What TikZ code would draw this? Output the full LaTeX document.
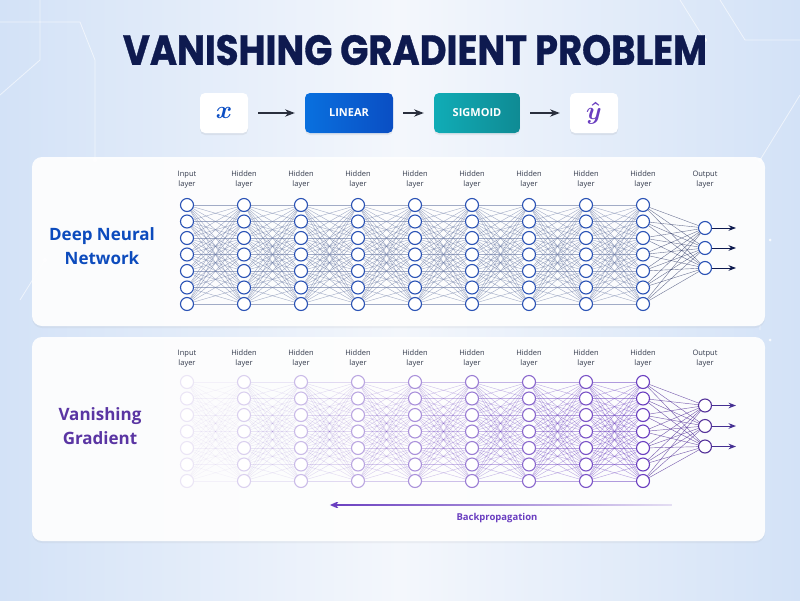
\documentclass[tikz,border=0pt]{standalone}
\usepackage{fontspec}
\setmainfont{Open Sans}
\newfontfamily\headfont{Poppins}[FakeStretch=0.88, BoldFeatures={FakeBold=0.8}]
\usepackage{amsmath,amssymb}
\usetikzlibrary{arrows.meta,shadows,fadings}

\definecolor{navy}{HTML}{0E1A4F}
\definecolor{bgblue}{HTML}{D3E2F7}
\definecolor{bgwhite}{HTML}{F4F7FC}
\definecolor{linblue}{HTML}{0B57D9}
\definecolor{sigteal}{HTML}{12A3AE}
\definecolor{nnblue}{HTML}{2A52B5}
\definecolor{edgeblue}{HTML}{6A7AA5}
\definecolor{vgpurple}{HTML}{6A3EC0}
\definecolor{labgray}{HTML}{333A4C}
\definecolor{arrowgray}{HTML}{2A2F3D}

\tikzfading[name=bpfade, left color=transparent!0, right color=transparent!85]

\begin{document}
\begin{tikzpicture}[x=1pt, y=-1pt, >=Stealth,
  panel/.style={fill=white, fill opacity=0.92, rounded corners=10pt,
    drop shadow={opacity=0.08, shadow xshift=0pt, shadow yshift=-2pt}},
  flowbox/.style={rounded corners=5pt, minimum height=40pt, inner sep=0pt,
    drop shadow={opacity=0.12, shadow xshift=0pt, shadow yshift=-2pt}},
  flowtext/.style={text=white, font=\bfseries\fontsize{11}{13}\selectfont},
  flowarrow/.style={->, arrowgray, line width=1.5pt, shorten <=10pt, shorten >=10pt},
  layerlab/.style={align=center, text=labgray, inner sep=0pt,
    font=\fontsize{7.5}{10}\selectfont},
  neuron/.style={circle, draw=nnblue, fill=white, line width=1.1pt,
    minimum size=13pt, inner sep=0pt},
  edge/.style={edgeblue, line width=0.4pt, opacity=0.62},
  sidetitle/.style={align=center, font=\bfseries\fontsize{17}{24}\selectfont}]

  % background
  \useasboundingbox (0,0) rectangle (800,600);
  \shade[left color=bgblue, right color=bgblue, middle color=bgwhite] (0,0) rectangle (800,600);
  \draw[white, opacity=0.6, line width=0.8pt] (0,22) -- (80,22) -- (95,60) -- (95,160)
    (0,95) -- (40,60) -- (40,0) (20,300) -- (45,260);
  \draw[white, opacity=0.6, line width=0.8pt] (800,40) -- (745,40) -- (720,0)
    (800,95) -- (760,160) -- (760,330) (680,0) -- (705,40);
  \fill[white, opacity=0.8] (95,160) circle (2) (45,260) circle (2) (760,160) circle (2)
    (705,40) circle (2) (770,240) circle (1.5) (770,340) circle (1.5);

  % title
  \node[text=navy, inner sep=0pt] (title) at (415,50)
    {\headfont\bfseries\fontsize{42}{46}\selectfont VANISHING GRADIENT PROBLEM};

  % flow row
  \node[flowbox, fill=white, minimum width=48pt] (in) at (224,113)
    {\color{linblue!85!navy}\fontsize{28}{30}\selectfont$\boldsymbol{x}$};
  \node[flowbox, left color=linblue!85!cyan, right color=linblue!90!black,
    minimum width=88pt, flowtext] (lin) at (349,113) {LINEAR};
  \node[flowbox, left color=sigteal!90!cyan, right color=sigteal!85!black,
    minimum width=86pt, flowtext] (sig) at (477,113) {SIGMOID};
  \node[flowbox, fill=white, minimum width=48pt] (out) at (594,113)
    {\color{vgpurple}\fontsize{28}{30}\selectfont$\boldsymbol{\hat{y}}$};
  \draw[flowarrow] (in) -- (lin);
  \draw[flowarrow] (lin) -- (sig);
  \draw[flowarrow] (sig) -- (out);

  % panels
  \fill[panel] (32,157) rectangle (765,326);
  \fill[panel] (32,337) rectangle (765,541);

  \node[sidetitle, text=linblue!80!navy] (dnn) at (102,246) {Deep Neural\\Network};
  \node[sidetitle, text=vgpurple!85!black] (vg) at (100,426) {Vanishing\\Gradient};

  % top network
  \foreach \l in {0,...,8} {
    \node[layerlab] (tl-\l) at (187+57*\l,180) {\ifnum\l=0 Input\else Hidden\fi\\layer};
    \foreach \k in {1,...,7}
      \node[neuron] (t-\l-\k) at (187+57*\l,188.5+16.5*\k) {};
  }
  \node[layerlab] (tl-o) at (705,180) {Output\\layer};
  \foreach \k in {1,2,3} {
    \node[neuron] (t-o-\k) at (705,208+20*\k) {};
    \coordinate (ta-\k) at (736,208+20*\k);
    \draw[->, navy, line width=1pt] (t-o-\k) -- (ta-\k);
  }
  \foreach \l [evaluate=\l as \m using int(\l+1)] in {0,...,7}
    \foreach \i in {1,...,7}
      \foreach \j in {1,...,7}
        \draw[edge] (t-\l-\i) -- (t-\m-\j);
  \foreach \i in {1,...,7}
    \foreach \j in {1,2,3}
      \draw[edge, navy, opacity=0.6] (t-8-\i) -- (t-o-\j);

  % bottom network, fading towards the input
  \foreach \l in {0,...,8} {
    \pgfmathsetmacro\op{0.12+0.11*\l}
    \node[layerlab] (bl-\l) at (187+57*\l,359) {\ifnum\l=0 Input\else Hidden\fi\\layer};
    \foreach \k in {1,...,7}
      \node[neuron, draw=vgpurple, draw opacity=\op] (b-\l-\k) at (187+57*\l,365.5+16.5*\k) {};
  }
  \node[layerlab] (bl-o) at (705,359) {Output\\layer};
  \foreach \k in {1,2,3} {
    \node[neuron, draw=vgpurple!80!black] (b-o-\k) at (705,385+20.5*\k) {};
    \coordinate (ba-\k) at (736,385+20.5*\k);
    \draw[->, vgpurple!60!navy, line width=1pt] (b-o-\k) -- (ba-\k);
  }
  \foreach \l [evaluate=\l as \m using int(\l+1)] in {0,...,7} {
    \pgfmathsetmacro\eop{0.06+0.065*\l}
    \foreach \i in {1,...,7}
      \foreach \j in {1,...,7}
        \draw[vgpurple, line width=0.4pt, opacity=\eop] (b-\l-\i) -- (b-\m-\j);
  }
  \foreach \i in {1,...,7}
    \foreach \j in {1,2,3}
      \draw[vgpurple!80!black, line width=0.45pt, opacity=0.75] (b-8-\i) -- (b-o-\j);

  % backpropagation
  \coordinate (bp-r) at (672,505);
  \coordinate (bp-l) at (330,505);
  \draw[vgpurple, line width=2.6pt, -{Stealth[length=9pt,width=8pt]}, path fading=bpfade] (bp-r) -- (bp-l);
  \node[text=vgpurple, font=\bfseries\fontsize{9.5}{11}\selectfont] (bplab) at (497,518) {Backpropagation};
\end{tikzpicture}
\end{document}
